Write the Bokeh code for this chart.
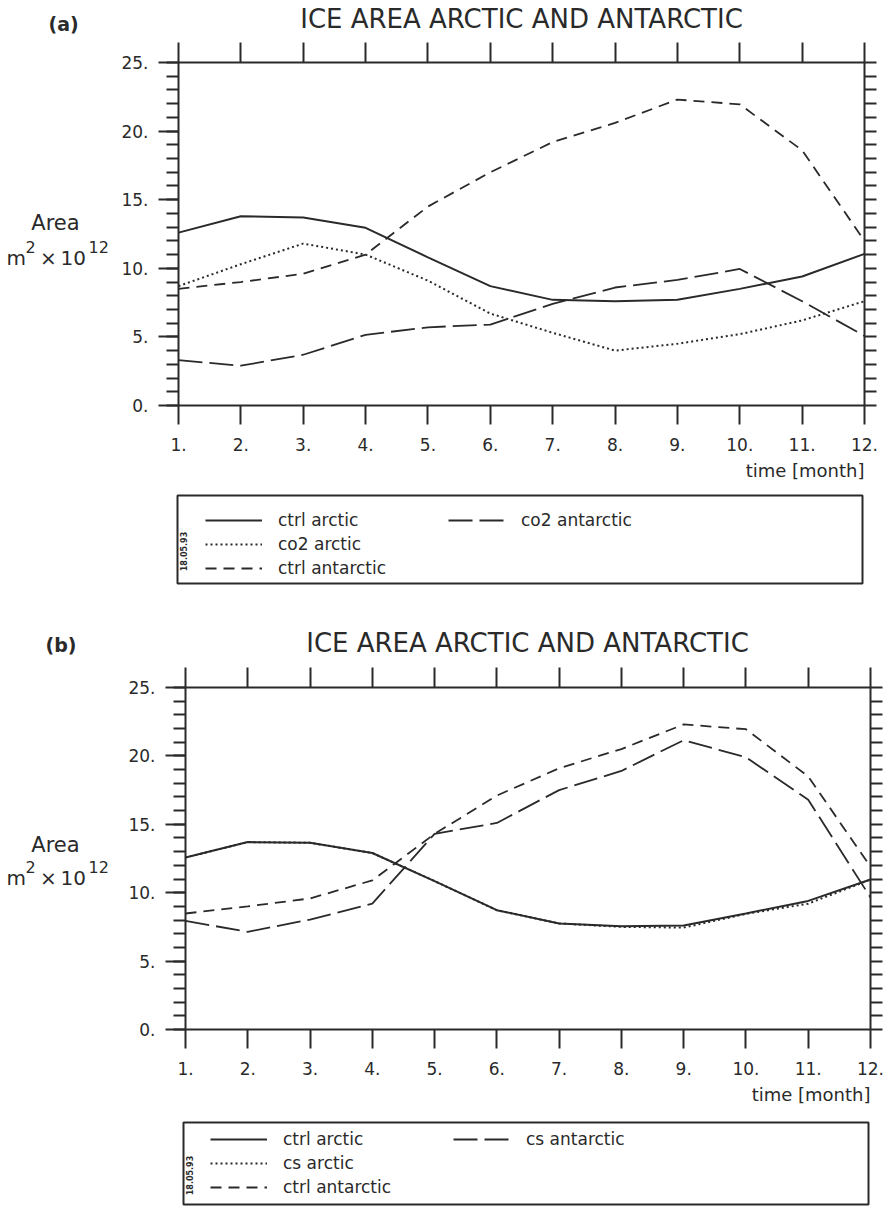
import math
from bokeh.plotting import figure
from bokeh.models import (Range1d, LinearAxis, FixedTicker, Label, Legend,
                          LegendItem, Title)
from bokeh.layouts import column, row
from bokeh.embed import file_html
from bokeh.resources import INLINE

# ---------------- data ----------------
months = [1, 2, 3, 4, 5, 6, 7, 8, 9, 10, 11, 12]
month_labels = ["1.", "2.", "3.", "4.", "5.", "6.", "7.", "8.", "9.", "10.", "11.", "12."]
y_ticks = [0, 5, 10, 15, 20, 25]
y_tick_labels = ["0.", "5.", "10.", "15.", "20.", "25."]
y_minor_ticks = list(range(0, 26))

title_text = "ICE AREA ARCTIC AND ANTARCTIC"
y_label_word = "Area"
y_unit_parts = ["m", "2", "×", "10", "12"]   # m^2 x 10^12
x_label = "time [month]"
stamp_text = "18.05.93"

# panel (a)
a_names = ["ctrl arctic", "co2 arctic", "ctrl antarctic", "co2 antarctic"]
a_ctrl_arctic = [12.6, 13.8, 13.7, 12.95, 10.8, 8.7, 7.7, 7.6, 7.7, 8.5, 9.4, 11.05]
a_co2_arctic = [8.7, 10.3, 11.8, 11.0, 9.1, 6.7, 5.3, 4.0, 4.5, 5.2, 6.2, 7.6]
a_ctrl_antarctic = [8.5, 9.0, 9.6, 11.0, 14.5, 17.0, 19.2, 20.6, 22.3, 21.95, 18.6, 12.0]
a_co2_antarctic = [3.3, 2.9, 3.7, 5.15, 5.7, 5.9, 7.4, 8.6, 9.15, 9.95, 7.6, 5.07]

# panel (b)
b_names = ["ctrl arctic", "cs arctic", "ctrl antarctic", "cs antarctic"]
b_ctrl_arctic = [12.57, 13.7, 13.65, 12.9, 10.85, 8.72, 7.75, 7.55, 7.6, 8.48, 9.4, 10.96]
b_cs_arctic = [12.57, 13.7, 13.65, 12.9, 10.85, 8.72, 7.75, 7.5, 7.45, 8.45, 9.2, 10.96]
b_ctrl_antarctic = [8.48, 9.0, 9.58, 10.9, 14.3, 17.1, 19.1, 20.5, 22.3, 21.95, 18.5, 11.9]
b_cs_antarctic = [7.94, 7.14, 8.04, 9.2, 14.3, 15.1, 17.5, 18.9, 21.15, 19.9, 16.8, 9.65]

# ---------------- style ----------------
INK = "#2a2a2a"
FONT = "DejaVu Sans"
STYLES = [("solid", 2.0), ("2 3", 2.0), ("11 7", 1.8), ("24 7", 1.8)]
W = 893
YL_W = 115   # width of the y-label strip


def base_fig(width, height, x_range, y_range, **kw):
    f = figure(width=width, height=height, x_range=x_range, y_range=y_range,
               output_backend="svg", toolbar_location=None, frame_align=False,
               background_fill_color="white", border_fill_color="white", **kw)
    f.grid.visible = False
    return f


def text_label(fig, x, y, text, size, align="left", baseline="middle", style="normal", angle=0.0):
    fig.add_layout(Label(x=x, y=y, text=text, text_font=FONT, text_font_size=size,
                         text_font_style=style, text_color=INK, text_align=align,
                         text_baseline=baseline, angle=angle))


def header(top, height, tag, tag_xy, title_xy):
    h = base_fig(W, height, Range1d(0, W), Range1d(top + height, top),
                 min_border=0, x_axis_location=None, y_axis_location=None,
                 outline_line_color=None)
    text_label(h, tag_xy[0], tag_xy[1], tag, "19px", style="bold")
    text_label(h, title_xy[0], title_xy[1], title_text, "26px", align="center")
    return h


def ylabel_fig(top, height, word_base, unit_base):
    g = base_fig(YL_W, height, Range1d(0, YL_W), Range1d(top + height, top),
                 min_border=0, x_axis_location=None, y_axis_location=None,
                 outline_line_color=None)
    text_label(g, 55, word_base, y_label_word, "21px", align="center", baseline="alphabetic")
    m, s1, times, ten, s2 = y_unit_parts
    text_label(g, 6, unit_base, m, "20px", baseline="alphabetic")
    text_label(g, 25, unit_base - 11, s1, "16px", baseline="alphabetic")
    text_label(g, 48, unit_base, times, "20px", align="center", baseline="alphabetic")
    text_label(g, 60, unit_base, ten, "20px", baseline="alphabetic")
    text_label(g, 88, unit_base - 11, s2, "16px", baseline="alphabetic")
    return g


def chart(top, height, frame, series):
    fl, fr, ft, fb = frame
    p = base_fig(W - YL_W, height, Range1d(1, 12), Range1d(0, 25),
                 min_border_left=fl - YL_W, min_border_right=W - fr,
                 min_border_top=ft - top, min_border_bottom=top + height - fb,
                 outline_line_color=None)
    xa = p.xaxis[0]
    xa.ticker = FixedTicker(ticks=months)
    xa.major_label_overrides = {m: l for m, l in zip(months, month_labels)}
    xa.major_tick_out = 19
    xa.major_tick_in = 0
    xa.minor_tick_out = 0
    xa.minor_tick_in = 0
    xa.major_label_standoff = 13
    ya = p.yaxis[0]
    ya.ticker = FixedTicker(ticks=y_ticks, minor_ticks=y_minor_ticks)
    ya.major_label_overrides = {t: l for t, l in zip(y_ticks, y_tick_labels)}
    ya.major_tick_out = 20
    ya.major_tick_in = 0
    ya.minor_tick_out = 12
    ya.minor_tick_in = 0
    ya.major_label_standoff = 10
    for ax in (xa, ya):
        ax.axis_line_color = INK
        ax.axis_line_width = 2
        ax.major_tick_line_color = INK
        ax.major_tick_line_width = 2
        ax.minor_tick_line_color = INK
        ax.minor_tick_line_width = 2
        ax.major_label_text_font = FONT
        ax.major_label_text_font_size = "17px"
        ax.major_label_text_color = INK

    top_ax = LinearAxis(ticker=FixedTicker(ticks=months), major_tick_out=20, major_tick_in=0,
                        minor_tick_out=0, minor_tick_in=0, axis_line_color=INK, axis_line_width=2,
                        major_tick_line_color=INK, major_tick_line_width=2,
                        major_label_text_font_size="0px", major_label_standoff=0,
                        major_label_text_color=None)
    p.add_layout(top_ax, "above")
    right_ax = LinearAxis(ticker=FixedTicker(ticks=y_minor_ticks), major_tick_out=12, major_tick_in=0,
                          minor_tick_out=0, minor_tick_in=0, axis_line_color=INK, axis_line_width=2,
                          major_tick_line_color=INK, major_tick_line_width=2,
                          major_label_text_font_size="0px", major_label_standoff=0,
                          major_label_text_color=None)
    p.add_layout(right_ax, "right")

    for vals, (dash, lw) in zip(series, STYLES):
        p.line(months, vals, line_color=INK, line_width=lw, line_dash=dash)

    p.add_layout(Title(text=x_label, align="right", text_font=FONT, text_font_size="18px",
                       text_font_style="normal", text_color=INK, standoff=8), "below")
    return p


def legend_fig(top, height, box, names, series, leg_x, leg_row1):
    bl, br, bt, bb = box
    g = base_fig(W, height, Range1d(bl, br), Range1d(bb, bt),
                 min_border_left=bl, min_border_right=W - br,
                 min_border_top=bt - top, min_border_bottom=top + height - bb,
                 x_axis_location=None, y_axis_location=None,
                 outline_line_color=INK, outline_line_width=2)
    items = []
    for name, vals, (dash, lw) in zip(names, series, STYLES):
        # same series, but out of this strip's range: only its legend sample shows
        r = g.line(months, vals, line_color=INK, line_width=lw, line_dash=dash)
        items.append(LegendItem(label=name, renderers=[r]))
    glyph_h, spacing = 20, 4
    leg_h = 3 * glyph_h + 2 * spacing
    leg_bottom = leg_row1 - glyph_h / 2 + leg_h
    leg = Legend(items=items, location=(leg_x - bl, bb - leg_bottom),
                 orientation="vertical", nrows=3, glyph_width=57, glyph_height=glyph_h,
                 label_standoff=16, label_width=166, spacing=spacing, padding=0, margin=0,
                 border_line_color=None, background_fill_alpha=0,
                 label_text_font=FONT, label_text_font_size="17px", label_text_color=INK)
    g.add_layout(leg)
    text_label(g, bl + 6, (bt + bb) / 2 + 12, stamp_text, "8px", align="center",
               style="bold", angle=math.pi / 2)
    return g


a_series = [a_ctrl_arctic, a_co2_arctic, a_ctrl_antarctic, a_co2_antarctic]
b_series = [b_ctrl_arctic, b_cs_arctic, b_ctrl_antarctic, b_cs_antarctic]

ha = header(0, 36, "(a)", (48, 23), (521, 18))
ya_ = ylabel_fig(36, 457, 222, 257)
ca = chart(36, 457, (178, 864, 62, 405), a_series)
la = legend_fig(493, 92, (177, 862, 495, 583), a_names, a_series, 205, 520)

hb = header(585, 75, "(b)", (45, 644), (527, 642))
yb_ = ylabel_fig(660, 460, 844, 877)
cb = chart(660, 460, (185, 870, 687, 1029), b_series)
lb = legend_fig(1120, 86, (183, 868, 1122, 1204), b_names, b_series, 210, 1139)

layout = column(ha, row(ya_, ca, spacing=0), la, hb, row(yb_, cb, spacing=0), lb, spacing=0)
open("out.html", "w").write(file_html(layout, INLINE))
